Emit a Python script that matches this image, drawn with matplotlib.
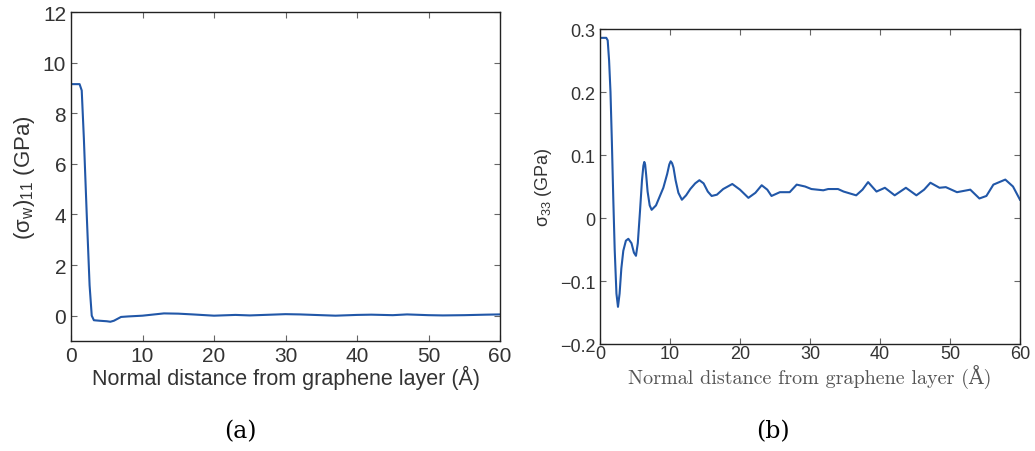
import numpy as np
import matplotlib
matplotlib.use("Agg")
import matplotlib.pyplot as plt
from matplotlib.ticker import FuncFormatter

plt.rcParams['font.family'] = ['Liberation Sans', 'DejaVu Sans']
plt.rcParams['mathtext.fontset'] = 'custom'
plt.rcParams['mathtext.rm'] = 'Liberation Sans'
plt.rcParams['mathtext.it'] = 'Liberation Sans'
plt.rcParams['mathtext.sf'] = 'Liberation Sans'

# (a) in-plane stress of water vs distance
dist_a = [0, 1.2, 1.5, 1.8, 2.2, 2.6, 2.9, 3.2, 4, 5, 5.5, 6, 7, 8, 10, 11, 13, 15, 17,
          20, 22, 23, 25, 28, 30, 32, 35, 37, 40, 42, 45, 47, 50, 52, 55, 58, 60]
sig11 = [9.15, 9.15, 8.9, 7.0, 4.0, 1.2, 0.0, -0.18, -0.2, -0.22, -0.24, -0.2, -0.05,
         -0.03, 0.0, 0.03, 0.09, 0.08, 0.05, 0.0, 0.02, 0.03, 0.01, 0.04, 0.06, 0.05, 0.02,
         0.0, 0.03, 0.04, 0.02, 0.05, 0.02, 0.01, 0.02, 0.04, 0.05]

# (b) normal stress vs distance
dist_b = [0, 0.9, 1.1, 1.3, 1.5, 1.7, 1.9, 2.1, 2.35, 2.57, 2.8, 3.05, 3.33, 3.7, 4.05,
          4.5, 4.85, 5.14, 5.4, 5.71, 6.0, 6.2, 6.33, 6.45, 6.6, 6.8, 7.1, 7.38, 8.0,
          9.05, 9.6, 9.9, 10.1, 10.3, 10.5, 10.8, 11.2, 11.7, 12.3, 12.9, 13.6, 14.2,
          14.8, 15.4, 15.95, 16.7, 17.6, 18.9, 20.0, 21.2, 22.2, 23.1, 23.9, 24.5, 25.7,
          27.1, 28.1, 29.3, 30.2, 31.9, 32.6, 34.0, 34.8, 36.6, 37.5, 38.3, 39.5, 40.7,
          42.1, 43.7, 45.2, 46.3, 47.2, 48.5, 49.4, 51.0, 52.9, 54.2, 55.2, 56.2, 57.9,
          59.0, 60]
sig33 = [0.286, 0.286, 0.282, 0.25, 0.2, 0.12, 0.03, -0.05, -0.12, -0.141, -0.12, -0.08,
         -0.052, -0.036, -0.033, -0.04, -0.055, -0.06, -0.04, 0.01, 0.06, 0.083, 0.089,
         0.085, 0.068, 0.042, 0.02, 0.013, 0.02, 0.048, 0.07, 0.085, 0.09, 0.087, 0.08,
         0.06, 0.04, 0.029, 0.036, 0.046, 0.055, 0.060, 0.055, 0.042, 0.035, 0.037,
         0.046, 0.054, 0.045, 0.032, 0.04, 0.052, 0.045, 0.035, 0.041, 0.041, 0.053,
         0.050, 0.046, 0.044, 0.046, 0.046, 0.042, 0.036, 0.045, 0.057, 0.042, 0.048,
         0.036, 0.048, 0.036, 0.045, 0.056, 0.048, 0.049, 0.041, 0.045, 0.031, 0.035,
         0.053, 0.061, 0.05, 0.029]

line_col = '#2157a8'
txt_col = '#333333'
xlabel = 'Normal distance from graphene layer (\u00c5)'

fig = plt.figure(figsize=(10.35, 4.52), dpi=100)
ax1 = fig.add_axes([0.0686, 0.2434, 0.4145, 0.7278])
ax2 = fig.add_axes([0.5797, 0.2367, 0.4058, 0.6969])


def style(ax, fs):
    for s in ax.spines.values():
        s.set_color('#222222')
        s.set_linewidth(1.0)
    ax.tick_params(direction='in', top=True, right=True, length=4, width=0.8,
                   color='#666666', labelcolor=txt_col, labelsize=fs)


ax1.plot(dist_a, sig11, color=line_col, lw=1.5)
ax1.set_xlim(0, 60)
ax1.set_ylim(-1, 12)
ax1.set_xticks(np.arange(0, 61, 10))
ax1.set_yticks(np.arange(0, 13, 2))
style(ax1, 15)
ax1.set_xlabel(xlabel, fontsize=15.5, color=txt_col, labelpad=0)
ax1.set_ylabel(r'$\mathrm{(\sigma_w)_{11}}$ (GPa)', fontsize=16, color=txt_col, labelpad=4)

ax2.plot(dist_b, sig33, color=line_col, lw=1.5)
ax2.set_xlim(0, 60)
ax2.set_ylim(-0.2, 0.3)
ax2.set_xticks(np.arange(0, 61, 10))
ax2.set_yticks([-0.2, -0.1, 0, 0.1, 0.2, 0.3])
ax2.yaxis.set_major_formatter(FuncFormatter(
    lambda v, p: '0' if abs(v) < 1e-9 else ('%.1f' % v).replace('-', '\u2212')))
style(ax2, 13)
ax2.tick_params(axis='x', pad=1)
ax2.set_xlabel(xlabel, fontsize=14.5, color='#555555', labelpad=1,
               family=['cmr10', 'DejaVu Serif'])
ax2.set_ylabel(r'$\mathrm{\sigma_{33}}$ (GPa)', fontsize=13, color=txt_col, labelpad=4)

fig.text(0.232, 0.044, '(a)', fontsize=17, family=['DejaVu Serif'], ha='center', va='center')
fig.text(0.747, 0.044, '(b)', fontsize=17, family=['DejaVu Serif'], ha='center', va='center')

fig.savefig('out.png', dpi=100)
